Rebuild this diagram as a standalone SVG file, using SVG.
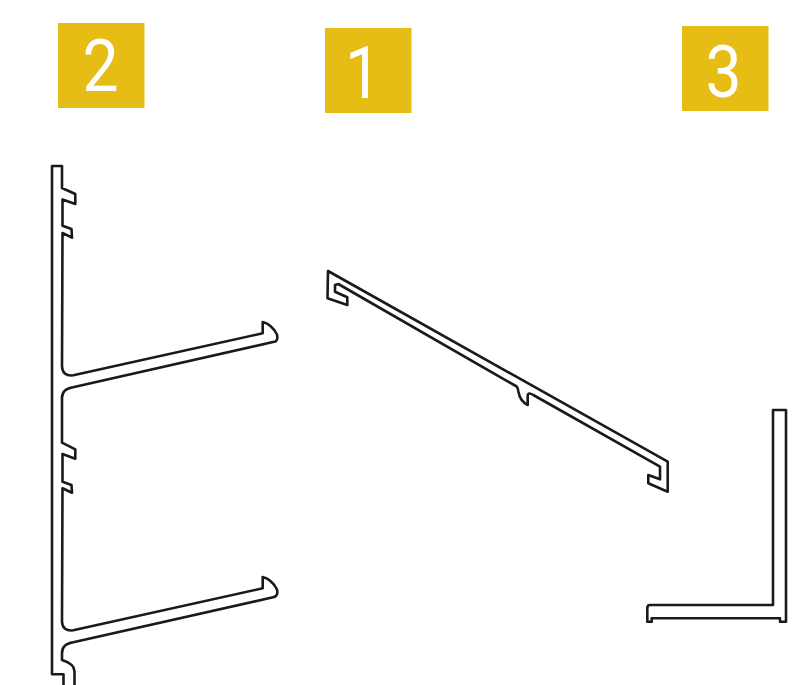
<svg xmlns="http://www.w3.org/2000/svg" width="809" height="685" viewBox="0 0 809 685">
<style>
.badge{fill:#e6bd15}
.num{fill:#fff;font-family:Roboto,"Liberation Sans",sans-serif;font-weight:400;font-size:73px;text-anchor:middle}
.profile{fill:none;stroke:#1a1a1a;stroke-width:2.6;stroke-linejoin:round;stroke-linecap:round}
</style>
<rect width="809" height="685" fill="#fff"/>
<g id="badge-2"><rect class="badge" x="58" y="23" width="86.5" height="85"/><text class="num" transform="translate(100.5 91) scale(.88 1)">2</text></g>
<g id="badge-1"><rect class="badge" x="325" y="28" width="86.5" height="85"/><text class="num" transform="translate(363 98) scale(.88 1)">1</text></g>
<g id="badge-3"><rect class="badge" x="682" y="26" width="86.5" height="85"/><text class="num" transform="translate(723.5 96.5) scale(.88 1)">3</text></g>
<g id="profile-2"><path class="profile" d="M63.5 685V674.3H52V166H62V188L75.3 194V204L62.5 199.5V225.7L71.5 229L72 237.7L62.5 233L62 366.5Q62.500 376.500 73.3 375.3L262.7 333.3V322Q272 324.5 277 334.500Q278.500 342 273 342L73 387.3Q62 389 62 398V442.7L75.3 449.3V458.7L62.5 454V481.7L71.5 485L72 492.7L62.5 488.3L62 621.7Q62.5 631.5 73.3 630.3L262.7 588.3V577Q272 579.5 277 589.5Q278.5 596.5 273 597.3L73.3 642.3Q62 644 62 653V660Q75 664 74.5 672V685"/></g>
<g id="profile-1"><path class="profile" d="M328 271L667.7 461.7V491.7L648.3 483.3V475L660 479.3V466.7L533.3 395Q527.7 391.5 527.7 396V405Q520 401 518.5 392Q518 388 516.7 386.5L338.300 284L335 285V291.7L347.3 297.3V305L327.5 298.3Z"/></g>
<g id="profile-3"><path class="profile" d="M773 410H786V621.7H780V618.3H651.7V621.7H647.3V608Q647.3 605 650 605H773Z"/></g>
</svg>
